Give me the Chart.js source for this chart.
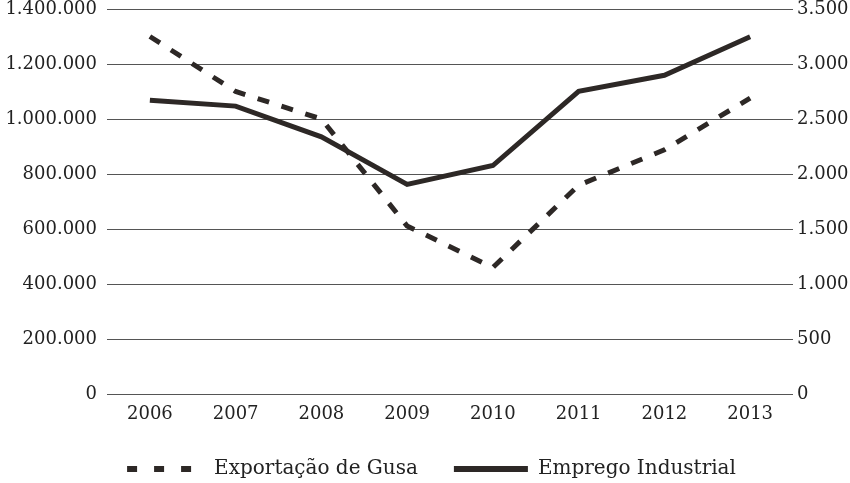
<!DOCTYPE html>
<html>
<head>
<meta charset="utf-8">
<script src="https://cdn.jsdelivr.net/npm/chart.js@4.4.1/dist/chart.umd.min.js"></script>
<style>
  html, body { margin: 0; padding: 0; background: #fff; }
  #wrap { width: 850px; height: 483px; position: relative; }
</style>
</head>
<body>
<div id="wrap"><canvas id="my-chart"></canvas></div>
<script>
const years = ["2006", "2007", "2008", "2009", "2010", "2011", "2012", "2013"];
const exportacaoGusa = [1300000, 1100000, 1000000, 611000, 460000, 759000, 888000, 1076000];
const empregoIndustrial = [2671, 2617, 2338, 1906, 2077, 2752, 2897, 3248];

const ink = "#2d2826";
const serif = "'DejaVu Serif', 'Liberation Serif', serif";

// pt-BR style thousands: 1.400.000
function fmt(v) {
  return String(v).replace(/\B(?=(\d{3})+(?!\d))/g, ".");
}

const ctx = document.getElementById("my-chart");

new Chart(ctx, {
  type: "line",
  data: {
    labels: years,
    datasets: [
      {
        label: "Exportação de Gusa",
        data: exportacaoGusa,
        yAxisID: "y",
        borderColor: ink,
        backgroundColor: ink,
        borderWidth: 5,
        borderDash: [12, 13],
        pointRadius: 0,
        tension: 0,
      },
      {
        label: "Emprego Industrial",
        data: empregoIndustrial,
        yAxisID: "y2",
        borderColor: ink,
        backgroundColor: ink,
        borderWidth: 5,
        pointRadius: 0,
        tension: 0,
      },
    ],
  },
  options: {
    responsive: true,
    maintainAspectRatio: false,
    animation: false,
    layout: { padding: { bottom: -6 } },
    plugins: {
      tooltip: { enabled: false },
      legend: {
        position: "bottom",
        labels: {
          usePointStyle: true,
          pointStyle: "line",
          pointStyleWidth: 90,
          padding: 20,
          color: "#222",
          font: { family: serif, size: 20 },
          // leading gap in the dash pattern places the marker inside its box
          generateLabels(chart) {
            const items = Chart.defaults.plugins.legend.labels.generateLabels(chart);
            items.forEach((it, i) => {
              it.lineWidth = 6;
              it.lineDash = i === 0 ? [0, 13, 10, 17, 10, 17, 10, 200] : [0, 16, 74, 200];
            });
            return items;
          },
        },
      },
    },
    scales: {
      x: {
        offset: true,
        grid: { display: false, drawTicks: false },
        border: { display: false },
        ticks: {
          color: "#222",
          padding: 10,
          font: { family: serif, size: 18 },
        },
        afterFit(scale) {
          scale.height = 45;
        },
      },
      y: {
        position: "left",
        min: 0,
        max: 1400000,
        border: { display: false },
        grid: { color: "#555", lineWidth: 1, drawTicks: true, tickLength: 10, tickColor: "rgba(0,0,0,0)" },
        ticks: {
          stepSize: 200000,
          padding: 0,
          color: "#222",
          font: { family: serif, size: 18, lineHeight: 1 },
          callback: (v) => fmt(v),
        },
        afterFit(scale) {
          scale.width = 107;
        },
      },
      y2: {
        position: "right",
        min: 0,
        max: 3500,
        border: { display: false },
        grid: { drawOnChartArea: false, drawTicks: true, tickLength: 4, tickColor: "rgba(0,0,0,0)" },
        ticks: {
          stepSize: 500,
          padding: 0,
          color: "#222",
          font: { family: serif, size: 18, lineHeight: 1 },
          callback: (v) => fmt(v),
        },
        afterFit(scale) {
          scale.width = 57;
        },
      },
    },
  },
});
</script>
</body>
</html>
